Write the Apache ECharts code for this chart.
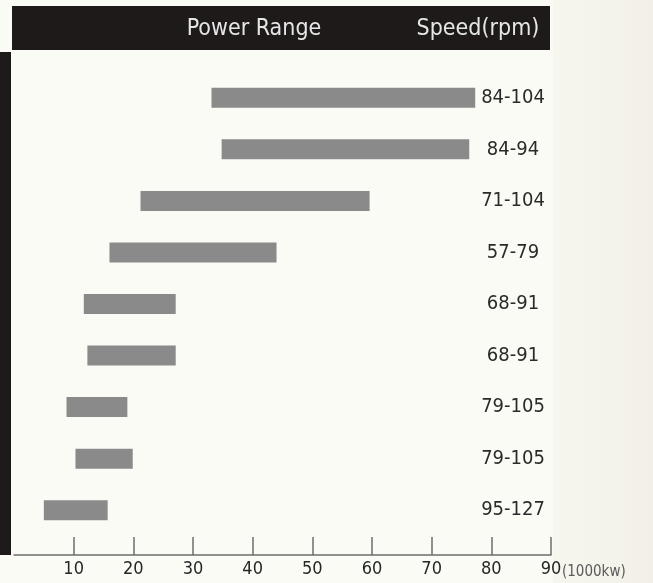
<!DOCTYPE html>
<html>
<head>
<meta charset="utf-8">
<script src="https://cdn.jsdelivr.net/npm/echarts@6/dist/echarts.min.js"></script>
<style>
html,body{margin:0;padding:0;background:#fbfbf6;}
#chart{width:653px;height:583px;}
</style>
</head>
<body>
<div id="chart"></div>
<script>
// ---- data ----
const speedLabels = ['84-104','84-94','71-104','57-79','68-91','68-91','79-105','79-105','95-127'];
const powerMin = [33.1, 34.8, 21.2, 16.0, 11.7, 12.3, 8.8, 10.3, 5.0];
const powerMax = [77.3, 76.3, 59.6, 44.0, 27.1, 27.1, 19.0, 19.9, 15.7];
const tickValues = [10, 20, 30, 40, 50, 60, 70, 80, 90];
const headerPower = 'Power Range';
const headerSpeed = 'Speed(rpm)';
const unitLabel = '(1000kw)';

const FONT = '"Liberation Sans Narrow", "DejaVu Sans Condensed", Arial, sans-serif';
const rangeLen = powerMax.map((v, i) => +(v - powerMin[i]).toFixed(2));

const chart = echarts.init(document.getElementById('chart'), null, {renderer: 'canvas'});
chart.setOption({
  backgroundColor: '#fbfbf6',
  animation: false,
  grid: {left: 14, right: 102, top: 72, bottom: 47, containLabel: false},
  xAxis: {
    type: 'value', min: 0, max: 90, interval: 10,
    position: 'bottom', offset: 19,
    axisLine: {show: true, lineStyle: {color: '#6e6e6e', width: 1.5}},
    axisTick: {show: true, inside: true, length: 18, customValues: tickValues,
               lineStyle: {color: '#6e6e6e', width: 1.5}},
    axisLabel: {show: true, customValues: tickValues, margin: 5,
                color: '#262626', fontSize: 18, fontFamily: FONT},
    splitLine: {show: false}
  },
  yAxis: {
    type: 'category', data: speedLabels, inverse: true, position: 'right',
    axisLine: {show: false}, axisTick: {show: false}, splitLine: {show: false},
    axisLabel: {show: true, inside: true, align: 'center', margin: 38,
                color: '#2a2a2a', fontSize: 20, fontFamily: FONT}
  },
  series: [
    {type: 'bar', stack: 'r', data: powerMin, barWidth: 20,
     itemStyle: {color: 'rgba(0,0,0,0)'}, silent: true},
    {type: 'bar', stack: 'r', data: rangeLen, barWidth: 20,
     itemStyle: {color: '#8a8a8a'}}
  ],
  graphic: [
    {type: 'rect', z: -1, shape: {x: 553, y: 0, width: 100, height: 583},
     style: {fill: new echarts.graphic.LinearGradient(0, 0, 1, 0, [
       {offset: 0, color: '#f7f6ee'}, {offset: 1, color: '#f2f0e6'}])}},
    {type: 'rect', shape: {x: 12, y: 6, width: 538, height: 44},
     style: {fill: '#1d1a19'}},
    {type: 'rect', shape: {x: 0, y: 52, width: 11, height: 503},
     style: {fill: '#1d1a19'}},
    {type: 'text', x: 254, y: 29,
     style: {text: headerPower, fill: '#e6e6e6', font: '23px ' + FONT,
             align: 'center', verticalAlign: 'middle'}},
    {type: 'text', x: 478, y: 29,
     style: {text: headerSpeed, fill: '#e6e6e6', font: '23px ' + FONT,
             align: 'center', verticalAlign: 'middle'}},
    {type: 'text', x: 562, y: 572,
     style: {text: unitLabel, fill: '#5a5a5a', font: '15px ' + FONT,
             align: 'left', verticalAlign: 'middle'}}
  ]
});
</script>
</body>
</html>
